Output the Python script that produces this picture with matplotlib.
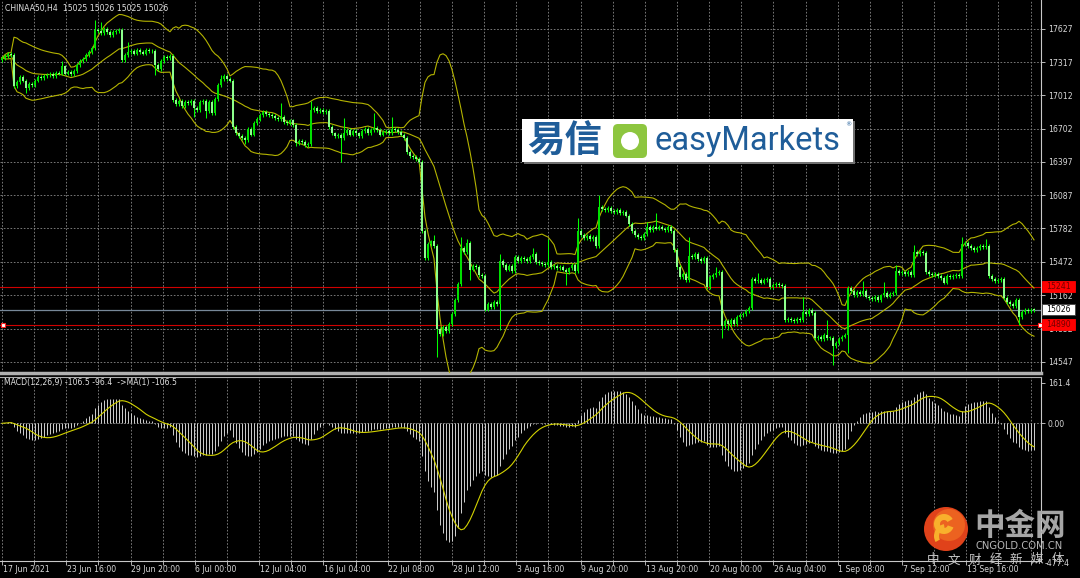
import numpy as np
import pandas as pd
import matplotlib
matplotlib.use("Agg")
import matplotlib.pyplot as plt
import matplotlib.transforms as mtransforms
from matplotlib.patches import Rectangle, FancyBboxPatch, Circle, Wedge

# ---------------- data ----------------
symbol_label = "CHINAA50,H4  15025 15026 15025 15026"
macd_label = "MACD(12,26,9) -106.5 -96.4  ->MA(1) -106.5"

first_open = 17340
closes = [
    17360, 17380, 17395, 17390, 17100, 17140, 17180, 17150, 17080, 17120,
    17110, 17150, 17180, 17170, 17190, 17200, 17210, 17190, 17220, 17215,
    17280, 17215, 17225, 17210, 17240, 17290, 17330, 17350, 17390, 17410,
    17450, 17620, 17610, 17590, 17630, 17600, 17570, 17600, 17610, 17620,
    17340, 17390, 17410, 17420, 17400, 17430, 17410, 17400, 17430, 17420,
    17420, 17290, 17260, 17330, 17370, 17360, 17380, 16970, 16930, 16960,
    16910, 16950, 16940, 16960, 16900, 16880, 16950, 16960, 16870, 16950,
    16850, 16980, 17110, 17160, 17190, 17160, 17150, 16720, 16660, 16640,
    16620, 16600, 16700, 16650, 16760, 16790, 16830, 16860, 16840, 16830,
    16820, 16800, 16790, 16810, 16770, 16760, 16780, 16740, 16570, 16590,
    16580, 16550, 16560, 16880, 16900, 16870, 16880, 16860, 16870, 16720,
    16660, 16640, 16650, 16620, 16660, 16690, 16650, 16680, 16660, 16640,
    16680, 16700, 16660, 16690, 16710, 16690, 16650, 16670, 16680, 16660,
    16700, 16690, 16670, 16650, 16620, 16490, 16450, 16440, 16420, 16400,
    15760, 15510, 15640, 15660, 15620, 14850, 14800, 14870, 14830, 14900,
    14990, 15120, 15270, 15600, 15560, 15650, 15400, 15430, 15420, 15350,
    15340, 15030, 15080, 15050, 15100, 15080, 15480, 15440, 15400, 15430,
    15390, 15520, 15480, 15510, 15500, 15480, 15520, 15540, 15470, 15460,
    15450, 15440, 15470, 15420, 15430, 15410, 15420, 15400, 15380, 15410,
    15440, 15390, 15760, 15720, 15690, 15710, 15680, 15700, 15620, 15980,
    15960, 15950, 15970, 15940, 15930, 15950, 15920, 15930, 15900, 15820,
    15760, 15720, 15700, 15690, 15730, 15790, 15770, 15790, 15780, 15790,
    15780, 15770, 15790, 15760, 15580, 15420, 15330, 15360, 15300, 15530,
    15520, 15540, 15500, 15480, 15510, 15240, 15330, 15350, 15370, 15380,
    14880, 14920, 14900, 14930, 14900, 14960, 14980, 14990, 15020, 15040,
    15310, 15290, 15300, 15280, 15300, 15310, 15240, 15260, 15270, 15260,
    15250, 14930, 14940, 14930, 14920, 14940, 14930, 15010, 14990, 15030,
    15000, 14770, 14780, 14760, 14790, 14770, 14770, 14690, 14720, 14760,
    14780, 14790, 15230, 15200, 15160, 15190, 15170, 15200, 15150, 15140,
    15130, 15150, 15120, 15160, 15180, 15150, 15170, 15180, 15390, 15370,
    15380, 15360, 15380, 15350, 15560, 15540, 15560, 15550, 15380, 15360,
    15350, 15360, 15340, 15320, 15280, 15340, 15330, 15340, 15350, 15340,
    15640, 15650, 15620, 15600, 15580, 15600, 15620, 15610, 15620, 15340,
    15310, 15290, 15300, 15310, 15140, 15100, 15080, 15060, 15120, 14960,
    15010, 15030, 15020, 15030, 15026,
]
default_wick = 18
spike_high = {20: 17330, 31: 17710, 33: 17690, 42: 17510, 73: 17200, 93: 16940,
              103: 16960, 114: 16800, 124: 16850, 130: 16810, 144: 15720, 153: 15700,
              155: 15680, 166: 15540, 177: 15600, 182: 15680, 192: 15880, 199: 16090,
              215: 15840, 218: 15920, 224: 15650, 229: 15700, 238: 15420, 252: 15370,
              267: 15145, 275: 14930, 287: 15290, 294: 15285, 298: 15440, 304: 15630,
              320: 15700, 328: 15680}
spike_low = {8: 17030, 51: 17200, 64: 16810, 68: 16800, 81: 16560, 98: 16540,
             113: 16400, 145: 14590, 156: 15300, 166: 14840, 188: 15260, 235: 15220,
             240: 14765, 242: 14840, 277: 14515, 282: 14630, 339: 14886}

price_ticks = [17627, 17317, 17012, 16702, 16397, 16087, 15782, 15472, 15162, 14852, 14547]
date_labels = ["17 Jun 2021", "23 Jun 16:00", "29 Jun 20:00", "6 Jul 00:00", "12 Jul 04:00",
               "16 Jul 04:00", "22 Jul 08:00", "28 Jul 12:00", "3 Aug 16:00", "9 Aug 20:00",
               "13 Aug 20:00", "20 Aug 00:00", "26 Aug 04:00", "1 Sep 08:00", "7 Sep 12:00",
               "13 Sep 16:00"]
level_high = 15241
level_low = 14890
bid_price = 15026
macd_tick_values = [161.4, 0.0]
macd_tick_texts = ["161.4", "0.00"]
macd_min_text = "-477.4"

# ---------------- derived series ----------------
c = np.array(closes, dtype=float)
n = len(c)
o = np.concatenate([[first_open], c[:-1]])
hi = np.maximum(o, c) + default_wick
lo = np.minimum(o, c) - default_wick
for k, v in spike_high.items():
    hi[k] = max(hi[k], v)
for k, v in spike_low.items():
    lo[k] = min(lo[k], v)
s = pd.Series(c)
mid = s.rolling(20, min_periods=1).mean()
sd = s.rolling(20, min_periods=1).std(ddof=0).fillna(0)
upper = mid + 2 * sd
lower = mid - 2 * sd
macd = s.ewm(span=12, adjust=False).mean() - s.ewm(span=26, adjust=False).mean()
signal = macd.rolling(9, min_periods=1).mean()

# ---------------- figure ----------------
W, H = 1080, 578
fig = plt.figure(figsize=(W / 100, H / 100), dpi=100, facecolor="black")
PX = mtransforms.Affine2D().scale(1 / W, -1 / H).translate(0, 1) + fig.transFigure

def fpos(x, y):
    return x / W, 1 - y / H

plot_right = 1041
ax = fig.add_axes([0, 1 - 373 / H, plot_right / W, 373 / H], facecolor="black")
ax2 = fig.add_axes([0, 1 - 561 / H, plot_right / W, (561 - 377) / H], facecolor="black")

xs = np.arange(n)
xlim = (-2 / 3, (plot_right - 2) / 3)
grid_col = "#8A8A8A"
dash = (0, (2, 2))
label_step = 21.43
half_ticks = np.arange(0, xlim[1], label_step / 2)
major_ticks = np.arange(len(date_labels)) * label_step

for a in (ax, ax2):
    a.set_xlim(*xlim)
    a.set_xticks(half_ticks)
    a.grid(True, axis="x", color=grid_col, ls=dash, lw=0.6)
    for sp in ("top", "left"):
        a.spines[sp].set_visible(False)
    a.spines["right"].set_color("#C8C8C8")
    a.spines["bottom"].set_color("#C8C8C8")

# --- main panel ---
ylo = 17627 - (373 - 29) * 9.258
yhi = 17627 + 29 * 9.258
ax.set_ylim(ylo, yhi)
ax.yaxis.tick_right()
ax.set_yticks(price_ticks)
ax.set_yticklabels([str(v) for v in price_ticks])
ax.tick_params(axis="y", colors="#D8D8D8", labelsize=5.6, length=3, pad=2, width=0.6)
ax.tick_params(axis="x", length=0, labelbottom=False)
ax.grid(True, axis="y", color=grid_col, ls=dash, lw=0.6)
ax.spines["bottom"].set_linewidth(2.5)
ax.spines["bottom"].set_color("#B0B0B0")

ax.axhline(level_high, color="#D00000", lw=0.8, zorder=2)
ax.axhline(level_low, color="#D00000", lw=0.8, zorder=2)
ax.axhline(bid_price, color="#778899", lw=0.9, zorder=2)

ax.plot(xs, upper, color="#B4B400", lw=0.8, zorder=3)
ax.plot(xs, mid, color="#B4B400", lw=0.8, zorder=3)
ax.plot(xs, lower, color="#B4B400", lw=0.8, zorder=3)

up = c >= o
ax.vlines(xs, lo, hi, color="#00FF00", lw=0.75, zorder=4)
body_h = np.maximum(np.abs(c - o), 6)
ax.bar(xs[up], body_h[up], bottom=np.minimum(o, c)[up], width=0.62,
       color="#00E000", edgecolor="none", zorder=5)
ax.bar(xs[~up], body_h[~up], bottom=np.minimum(o, c)[~up], width=0.62,
       color="#8CFF8C", edgecolor="none", zorder=5)

ax.plot([0.35], [level_low], marker="s", ms=3, mfc="white", mec="#FF2020", mew=0.8,
        clip_on=False, zorder=6)
ax.plot([xlim[1] - 0.3], [level_low], marker="s", ms=3, mfc="white", mec="#FF2020", mew=0.8,
        clip_on=False, zorder=6)

blend = mtransforms.blended_transform_factory(ax.transAxes, ax.transData)
box_h = 11 * 9.258
for val, fc, tc, ec in ((level_high, "#FF0000", "#700000", "#FF0000"),
                        (bid_price, "white", "black", "#404040"),
                        (level_low, "#FF0000", "#700000", "#FF0000")):
    ax.add_patch(Rectangle((1.001, val - box_h / 2), 0.032, box_h, transform=blend,
                           facecolor=fc, edgecolor=ec, lw=0.6, clip_on=False, zorder=10))
    ax.text(1.005, val, str(val), transform=blend, color=tc, fontsize=5.6,
            va="center", ha="left", clip_on=False, zorder=11)

# --- MACD panel ---
ax2.set_ylim(-(561 - 423.3) * 3.975, 161.4 + (382.7 - 377) * 3.975)
ax2.vlines(xs, 0, macd, color="#D0D0D0", lw=0.7, zorder=3)
ax2.plot(xs, signal, color="#D2D200", lw=0.8, zorder=4)
ax2.axhline(0, color=grid_col, ls=dash, lw=0.6, zorder=2)
ax2.yaxis.tick_right()
ax2.set_yticks(macd_tick_values)
ax2.set_yticklabels(macd_tick_texts)
ax2.tick_params(axis="y", colors="#D8D8D8", labelsize=5.6, length=3, pad=2, width=0.6)
ax2.tick_params(axis="x", length=3, width=0.6, colors="#C8C8C8", labelbottom=False)
ax2.spines["top"].set_visible(True)
ax2.spines["top"].set_color("#B0B0B0")
tb = mtransforms.blended_transform_factory(ax2.transData, ax2.transAxes)
for pos, lab in zip(major_ticks, date_labels):
    ax2.text(pos + 0.2, -0.045, lab, transform=tb, color="#D8D8D8", fontsize=5.6,
             ha="left", va="center", clip_on=False)

# --- header labels ---
fig.text(*fpos(5, 8), symbol_label, color="#E0E0E0", fontsize=5.6, va="center", ha="left")
fig.text(*fpos(4, 383), macd_label, color="#E0E0E0", fontsize=5.6, va="center", ha="left")
fig.text(*fpos(1045, 563), macd_min_text, color="#D8D8D8", fontsize=5.6, va="center", ha="left")

# --- easyMarkets banner ---
fig.add_artist(Rectangle((524, 121), 331, 43, transform=PX, facecolor="#707070", edgecolor="none"))
fig.add_artist(Rectangle((522, 119), 331, 43, transform=PX, facecolor="white", edgecolor="none"))
fig.text(*fpos(527, 141), "易信", family=["Noto Sans CJK SC"], fontsize=27, weight="bold",
         color="#1F5D99", va="center", ha="left")
fig.add_artist(FancyBboxPatch((613, 124), 34, 34, boxstyle="round,pad=0,rounding_size=5",
                              transform=PX, facecolor="#8DC63F", edgecolor="none"))
fig.add_artist(Circle((630, 141), 9, transform=PX, facecolor="white", edgecolor="none"))
fig.text(*fpos(655, 141), "easyMarkets", family=["Roboto"], fontsize=23.5,
         color="#1F5D99", va="center", ha="left")
fig.text(*fpos(845, 125), "®", fontsize=4.5, color="#1F5D99", va="center", ha="left")

# --- cngold watermark ---
fig.add_artist(Circle((946, 529), 22, transform=PX, facecolor="#E0421A", edgecolor="none"))
fig.add_artist(Circle((949, 525), 16, transform=PX, facecolor="#EC6220", edgecolor="none"))
fig.add_artist(Wedge((944, 524), 10, 20, 330, width=6, transform=PX, facecolor="#F8B02C",
                     edgecolor="none"))
fig.add_artist(Wedge((946, 536), 12, 150, 260, width=5, transform=PX, facecolor="#F8B02C",
                     edgecolor="none"))
fig.text(*fpos(974, 526), "中金网", family=["Noto Sans CJK SC"], fontsize=22, weight="bold",
         color="#A6A6A6", va="center", ha="left")
fig.text(*fpos(976, 546), "CNGOLD.COM.CN", fontsize=7.2, color="#B8B8B8", va="center", ha="left")
for i, ch in enumerate("中文财经新媒体"):
    fig.text(*fpos(933 + i * 20.8, 560), ch, family=["Noto Sans CJK SC"], fontsize=9,
             color="#C8C8C8", va="center", ha="center")

fig.savefig("out.png", dpi=100, facecolor="black")
